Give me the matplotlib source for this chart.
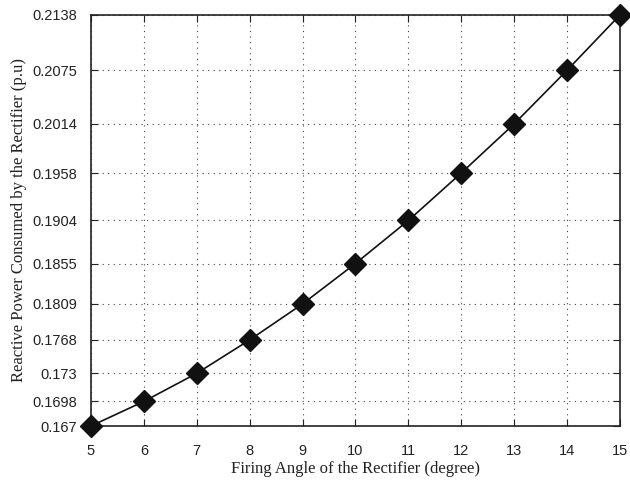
import matplotlib
matplotlib.use("Agg")
import matplotlib.pyplot as plt

firing_angle = [5, 6, 7, 8, 9, 10, 11, 12, 13, 14, 15]
reactive_power = [0.167, 0.1698, 0.173, 0.1768, 0.1809, 0.1855, 0.1904,
                  0.1958, 0.2014, 0.2075, 0.2138]
x_ticks = firing_angle
y_ticks = reactive_power
y_tick_labels = ["0.167", "0.1698", "0.173", "0.1768", "0.1809", "0.1855",
                 "0.1904", "0.1958", "0.2014", "0.2075", "0.2138"]

fig = plt.figure(figsize=(6.3, 4.83), dpi=100)
ax = fig.add_axes([0.1444, 0.118, 0.8396, 0.851])

ax.plot(firing_angle, reactive_power, color="#111111", linewidth=1.2,
        marker="D", markersize=11.5, markerfacecolor="#111111",
        markeredgecolor="#111111", clip_on=False, zorder=5)

ax.set_xlim(5, 15)
ax.set_ylim(0.167, 0.2138)
ax.set_xticks(x_ticks)
ax.set_yticks(y_ticks)
ax.set_yticklabels(y_tick_labels)

for lbl in ax.get_xticklabels() + ax.get_yticklabels():
    lbl.set_fontfamily("Liberation Sans")
    lbl.set_fontsize(10.5)

ax.tick_params(direction="in", top=True, right=True, length=5, width=0.8,
               colors="#222222")
ax.tick_params(axis="x", pad=13)
ax.tick_params(axis="y", pad=10)
ax.grid(True, linestyle=(0, (1, 4)), color="#444444", linewidth=0.8)
for sp in ax.spines.values():
    sp.set_linewidth(1.2)
    sp.set_color("#222222")

ax.set_xlabel("Firing Angle of the Rectifier (degree)",
              fontfamily="Liberation Serif", fontsize=12, labelpad=2,
              color="#222222")
ax.set_ylabel("Reactive Power Consumed by the Rectifier (p.u)",
              fontfamily="Liberation Serif", fontsize=12, labelpad=4,
              color="#222222")

fig.savefig("out.png", dpi=100)
